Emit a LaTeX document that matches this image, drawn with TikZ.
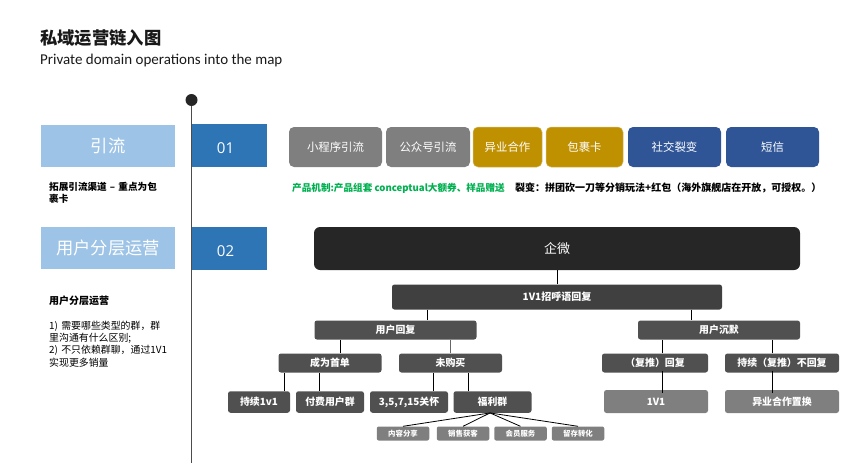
\documentclass[tikz,border=0pt]{standalone}
\usepackage{xcolor}
\usepackage{fontspec}
\usepackage{tikz}
\usetikzlibrary{shapes, arrows.meta, positioning}
\setmainfont{Noto Sans CJK SC}
\newfontfamily\latinfont{Open Sans}
\newfontfamily\headfont{Carlito}
\definecolor{PaleBlue}{HTML}{9DC3E6}
\definecolor{MidBlue}{HTML}{2E75B6}
\definecolor{NavyBlue}{HTML}{2F5597}
\definecolor{Ochre}{HTML}{BF9000}
\definecolor{DarkBox}{HTML}{505050}
\definecolor{MidBox}{HTML}{7F7F7F}
\definecolor{CodeGreen}{HTML}{00B050}

\begin{document}
\begin{tikzpicture}
  [
    x=1pt, y=-1pt,
    Band/.style={fill=PaleBlue, text=white, font=\fontsize{17.3}{20}\selectfont, inner sep=0pt, minimum height=42pt, minimum width=134pt},
    Num/.style={fill=MidBlue, text=white, font=\latinfont\fontsize{15}{18}\selectfont, inner sep=0pt, minimum height=43pt, minimum width=75pt},
    Btn/.style={rounded corners=5pt, text=white, font=\fontsize{11.4}{13}\selectfont, inner sep=0pt, minimum height=40pt},
    Gray/.style={Btn, fill=MidBox},
    Gold/.style={Btn, fill=Ochre, draw=Ochre!60!white, line width=.5pt},
    Navy/.style={Btn, fill=NavyBlue},
    Dark/.style={rounded corners=2.5pt, fill=DarkBox, text=white, font=\bfseries\fontsize{9.9}{11}\selectfont, inner sep=0pt, minimum height=19pt},
    Leaf/.style={Dark, minimum height=21.5pt},
    Pale/.style={Dark, fill=MidBox, minimum height=23pt},
    Tiny/.style={rounded corners=2pt, fill=MidBox, text=white, font=\bfseries\fontsize{7.4}{8}\selectfont, inner sep=0pt, minimum height=14pt, minimum width=52.5pt},
    Note/.style={inner sep=0pt, anchor=north west, align=left, text=black},
    Link/.style={draw=black, line width=.8pt}
  ]
  \useasboundingbox (0,0) rectangle (867,463);

  % Heading
  \node[Note, anchor=west, font=\bfseries\fontsize{17.3}{20}\selectfont, text=black!90] (title) at(40, 38) {私域运营链入图};
  \node[Note, anchor=west, font=\headfont\fontsize{15}{18}\selectfont, text=black!90] (subtitle) at(40, 61) {Private domain operations into the map};

  % Timeline
  \node[circle, fill=black!85, inner sep=0pt, minimum size=12pt] (dot) at(191.5, 100) {};
  \coordinate (end) at(191.5, 463);
  \path [draw=black!70, line width=1.5pt] (dot) -- (end);

  % Left column
  \node[Band] (yinliu) at(108, 146) {引流};
  \node[Num] (n1) at(229.5, 145.5) {\raisebox{-2pt}[11pt][0pt]{01}\kern8pt};
  \node[Band] (fenceng) at(108, 248) {用户分层运营};
  \node[Num] (n2) at(229.5, 248.5) {\raisebox{-2pt}[11pt][0pt]{02}\kern8pt};

  \node[Note, font=\bfseries\fontsize{9.6}{12}\selectfont, text width=115pt] (tuozhan) at(49, 182) {拓展引流渠道 -- 重点为包\\裹卡};
  \node[Note, font=\bfseries\fontsize{10}{11}\selectfont] (fctitle) at(49, 296) {用户分层运营};
  \node[Note, font=\fontsize{9.9}{12.2}\selectfont, text width=125pt] (fcnote) at(49, 321) {1) 需要哪些类型的群，群\\里沟通有什么区别;\\2) 不只依赖群聊，通过1V1\\实现更多销量};

  % Channels
  \node[Gray, minimum width=93pt] (c1) at(335.5, 147) {小程序引流};
  \node[Gray, minimum width=84pt] (c2) at(428, 147) {公众号引流};
  \node[Gold, minimum width=69pt] (c3) at(507.5, 147) {异业合作};
  \node[Gold, minimum width=77pt] (c4) at(584.5, 147) {包裹卡};
  \node[Navy, minimum width=93pt] (c5) at(674.5, 147) {社交裂变};
  \node[Navy, minimum width=93pt] (c6) at(772.5, 147) {短信};

  \node[Note, anchor=west, text=CodeGreen, font=\bfseries\fontsize{9.6}{10}\selectfont] (mech) at(292, 188) {产品机制:产品组套 conceptual大额券、样品赠送};
  \node[Note, anchor=west, font=\bfseries\fontsize{10}{10}\selectfont] (lie) at(515, 188) {裂变：拼团砍一刀等分销玩法+红包（海外旗舰店在开放，可授权。）};

  % Tree
  \node[rounded corners=6pt, fill=black!85, text=white, font=\fontsize{13}{15}\selectfont, inner sep=0pt, minimum width=486pt, minimum height=43pt] (qw) at(557, 248.5) {企微};
  \node[Dark, minimum width=330pt, minimum height=25pt, fill=black!75, font=\bfseries\fontsize{10}{11}\selectfont] (hello) at(557, 297) {1V1招呼语回复};

  \node[Dark, minimum width=162pt] (reply) at(395.5, 330) {用户回复};
  \node[Dark, minimum width=162pt] (silent) at(719, 330) {用户沉默};

  \node[Dark, minimum width=103pt] (first) at(330, 363) {成为首单};
  \node[Dark, minimum width=103pt] (nobuy) at(450.5, 363) {未购买};
  \node[Dark, minimum width=106pt] (again) at(655, 363) {（复推）回复};
  \node[Dark, minimum width=114pt] (noagain) at(782, 363) {持续（复推）不回复};

  \node[Leaf, minimum width=62pt] (keep) at(259, 402) {持续1v1};
  \node[Leaf, minimum width=68pt] (paid) at(330, 402) {付费用户群};
  \node[Leaf, minimum width=78pt] (care) at(409, 402) {3,5,7,15关怀};
  \node[Leaf, minimum width=78pt] (perk) at(492.5, 402) {福利群};
  \node[Pale, minimum width=104pt] (one) at(656, 401.5) {1V1};
  \node[Pale, minimum width=114pt] (swap) at(782, 401.5) {异业合作置换};

  \node[Tiny] (t1) at(403, 433.5) {内容分享};
  \node[Tiny] (t2) at(463, 433.5) {销售获客};
  \node[Tiny] (t3) at(520.5, 433.5) {会员服务};
  \node[Tiny] (t4) at(578, 433.5) {留存转化};

  % Lines
  \path [Link] (qw) -- (hello);
  \path [Link] ([xshift=-129.7pt]hello.south) -- ([xshift=31.8pt]reply.north);
  \path [Link] ([xshift=134pt]hello.south) -- ([xshift=-28pt]silent.north);
  \path [Link] ([xshift=10.7pt]first.north) -- ([xshift=-54.8pt]reply.south);
  \path [Link, draw=black!60] (nobuy.north) -- ([xshift=55pt]reply.south);
  \path [Link] ([xshift=7.3pt]again.north) -- ([xshift=-56.7pt]silent.south);
  \path [Link] ([xshift=-9.3pt]noagain.north) -- ([xshift=53.7pt]silent.south);
  \path [Link] ([xshift=25.7pt]keep.north) -- ([xshift=-45.3pt]first.south);
  \path [Link] ([xshift=-10.7pt]paid.north) -- ([xshift=-10.7pt]first.south);
  \path [Link] ([xshift=24.3pt]care.north) -- ([xshift=-17.2pt]nobuy.south);
  \path [Link] ([xshift=-24.2pt]perk.north) -- ([xshift=17.8pt]nobuy.south);
  \path [Link] ([xshift=6.3pt, yshift=-3pt]one.north) -- ([xshift=7.3pt, yshift=1.5pt]again.south);
  \path [Link] ([xshift=-9.3pt, yshift=-3pt]swap.north) -- ([xshift=-9.3pt, yshift=1.5pt]noagain.south);
  \path [Link] ([xshift=-2.5pt]perk.south) -- (t1.north);
  \path [Link] ([xshift=-2.5pt]perk.south) -- (t2.north);
  \path [Link] ([xshift=-2.5pt]perk.south) -- (t3.north);
  \path [Link] ([xshift=-2.5pt]perk.south) -- (t4.north);

\end{tikzpicture}
\end{document}
